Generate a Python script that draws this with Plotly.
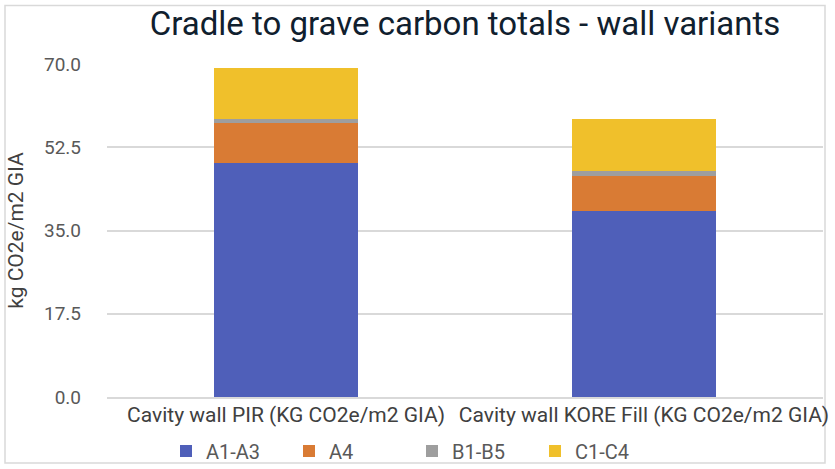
import plotly.graph_objects as go

categories = ["Cavity wall PIR (KG CO2e/m2 GIA)", "Cavity wall KORE Fill (KG CO2e/m2 GIA)"]
series_names = ["A1-A3", "A4", "B1-B5", "C1-C4"]
a1_a3 = [49.2, 39.0]
a4 = [8.3, 7.5]
b1_b5 = [1.0, 1.0]
c1_c4 = [10.7, 11.0]
y_tick_values = [0, 17.5, 35, 52.5, 70]

colors = ["#4f5fb9", "#d97b34", "#9e9e9e", "#f0c02b"]

W, H = 835, 469
ML, MR, MT, MB = 107, 12, 64, 72
PW, PH = W - ML - MR, H - MT - MB

def px_x(p):
    return (p - ML) / PW

def px_y(p):
    return (H - MB - p) / PH

FONT = "Roboto"

fig = go.Figure()
for name, vals, col in zip(series_names, [a1_a3, a4, b1_b5, c1_c4], colors):
    fig.add_trace(go.Bar(x=categories, y=vals, name=name, marker=dict(color=col, line=dict(width=0))))

fig.update_layout(
    width=W, height=H,
    margin=dict(l=ML, r=MR, t=MT, b=MB, autoexpand=False),
    barmode="stack",
    bargap=0.6,
    plot_bgcolor="white",
    paper_bgcolor="white",
    font=dict(family=FONT, color="#595959", size=18),
    title=dict(text="Cradle to grave carbon totals - wall variants",
               x=0.5, xref="paper", xanchor="center",
               y=1 - 23 / H, yanchor="middle",
               font=dict(family=FONT, size=33, color="#10202e")),
    legend=dict(orientation="h", x=px_x(412), xanchor="center",
                y=px_y(451), yanchor="middle",
                bgcolor="rgba(0,0,0,0)",
                font=dict(size=20, color="#595959"),
                itemwidth=30, entrywidth=78, traceorder="normal"),
    showlegend=True,
)
fig.update_yaxes(range=[0, 70], tickvals=y_tick_values, tickformat=".1f",
                 showgrid=True, gridcolor="#d9d9d9", gridwidth=2,
                 zeroline=False, showline=False, ticks="",
                 ticklabelstandoff=25, automargin=False,
                 tickfont=dict(size=19, color="#595959"),
                 title=dict(text="kg CO2e/m2 GIA", standoff=14,
                            font=dict(size=21, color="#404040")))
fig.update_xaxes(showline=True, linecolor="#d9d9d9", linewidth=2,
                 ticks="", automargin=False, ticklabelstandoff=-2,
                 tickfont=dict(size=21, color="#404040"))

fig.add_shape(type="rect", xref="paper", yref="paper",
              x0=px_x(5), x1=px_x(825), y0=px_y(463), y1=px_y(5.5),
              line=dict(color="#d9d9d9", width=1.5), fillcolor="rgba(0,0,0,0)",
              layer="below")

fig.write_html("out.html", config={"displayModeBar": False},
               post_script="document.body.style.margin='0';")
